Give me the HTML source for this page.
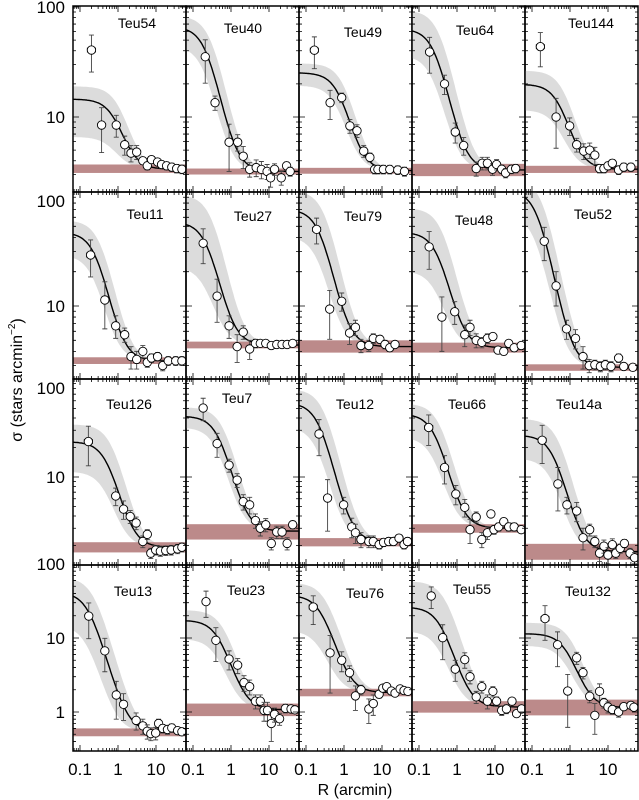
<!DOCTYPE html>
<html><head><meta charset="utf-8"><style>
html,body{margin:0;padding:0;background:#fff;}
svg{display:block;font-family:"Liberation Sans",sans-serif;}
</style></head><body>
<svg id="chart" width="639" height="800" viewBox="0 0 639 800" xmlns="http://www.w3.org/2000/svg">
<g id="panels"></g>
<text x="355" y="795" font-size="16" text-anchor="middle">R (arcmin)</text>
<text transform="translate(22,380) rotate(-90)" font-size="16" text-anchor="middle">σ (stars arcmin<tspan dy="-7" font-size="10">−2</tspan><tspan dy="7">)</tspan></text>
</svg>
<script>
const clusterNames = ["Teu54","Teu40","Teu49","Teu64","Teu144","Teu11","Teu27","Teu79","Teu48","Teu52","Teu126","Teu7","Teu12","Teu66","Teu14a","Teu13","Teu23","Teu76","Teu55","Teu132"];
const coreDensity = [11.2,63,22,60,16.5,41,50,66,40,101,21,39,55,41,25,41,16.3,36,25,10.3];
const coreRadius = [0.9,0.25,0.85,0.3,0.6,0.3,0.27,0.27,0.36,0.16,0.58,0.54,0.25,0.3,0.42,0.18,0.5,0.27,0.39,0.85];
const bgLevel = [3.35,3.2,3.25,3.3,3.35,3.3,4.55,4.4,4.3,2.9,1.92,2.8,2.17,3.0,1.73,0.54,1.07,1.83,1.17,1.15];
const bgLow = [3.1,3.0,3.05,2.9,3.1,3.1,4.25,3.9,3.9,2.7,1.7,2.3,1.96,2.7,1.43,0.47,0.88,1.63,0.98,0.9];
const bgHigh = [3.7,3.4,3.45,3.75,3.6,3.55,4.87,5.0,4.77,3.08,2.16,3.3,2.38,3.3,2.08,0.6,1.3,2.06,1.4,1.47];
const bandUpper = [1.4,1.27,1.25,1.5,1.4,1.3,1.8,1.5,1.7,1.3,1.55,1.25,1.4,1.3,1.5,1.6,1.4,1.5,2.3,1.45];
const bandLower = [0.29,0.65,0.73,0.55,0.5,0.6,0.35,0.55,0.4,0.6,0.45,0.75,0.55,0.55,0.55,0.35,0.53,0.3,0.45,0.65];
const firstXerr = [1,0,1,0,1,1,0,1,0,0,1,0,0,1,1,0,0,1,0,1];
const xTickLabels = ["0.1","1","10"];
const xTickValues = [0.1,1,10];
const yTickLabels = [["100","10"],["100","10"],["100","10"],["100","10","1"]];
const yTickValues = [[100,10],[100,10],[100,10],[100,10,1]];
const profilePoints = [
[[0.2,40.6,15],[0.37,8.45,3.7],[0.9,8.45,1.9],[1.5,5.6,1.1],[2.2,4.7,0.8],[3.1,4.8,0.7],[4.5,4.0,0.3],[5.9,3.6,0.3],[7.6,4.1,0.3],[11,3.9,0.3],[14,3.7,0.3],[19,3.6,0.3],[26,3.5,0.3],[35,3.4,0.3],[48,3.35,0.3]],
[[0.21,35.3,15],[0.38,13.5,2],[0.89,5.9,2.7],[1.5,5.9,1],[2.1,4.4,1],[3.1,3.34,0.5],[4.6,3.47,0.6],[6.3,3.34,0.6],[8.9,3.2,0.5],[11,2.8,0.5],[14,3.35,0.4],[21,2.8,0.4],[29,3.6,0.3],[36,3.2,0.3]],
[[0.166,40.5,13],[0.43,13.5,4],[0.87,15,1.5],[1.43,8.3,1.2],[2.2,7.5,1],[3.3,4.9,0.6],[4.8,4.3,0.4],[6.4,3.34,0.3],[7.8,3.34,0.3],[10.9,3.34,0.3],[16,3.34,0.3],[26,3.3,0.3],[39,3.2,0.3]],
[[0.19,39,14],[0.47,20,4],[0.9,7.3,1.5],[1.5,5.5,1],[3.2,3.4,0.5],[4.6,3.8,0.5],[6.3,3.8,0.5],[8.6,3.35,0.4],[11,3.7,0.4],[15,3.35,0.3],[19,3.1,0.3],[27,3.35,0.3],[35,3.4,0.3]],
[[0.166,43.6,15],[0.43,10,4.8],[0.98,8.3,1.5],[1.5,5.6,0.8],[2.3,4.9,0.8],[3.3,5,0.8],[4.5,4.5,0.8],[6,3.4,0.3],[7.8,3.4,0.3],[10,3.6,0.3],[13,3.8,0.3],[19,3.3,0.3],[26,3.5,0.3],[40,3.5,0.3]],
[[0.19,28,10],[0.45,11.3,5],[0.87,6.7,1.5],[1.5,5.6,0.8],[2.2,3.6,0.8],[3.1,3.4,0.6],[4.5,4.0,0.5],[5.9,3.2,0.3],[7.6,3.5,0.3],[11,3.6,0.3],[15,3.0,0.3],[21,3.3,0.3],[33,3.3,0.3],[48,3.3,0.3]],
[[0.185,35.5,12],[0.43,12.2,5],[0.89,6.7,1.5],[1.45,4.4,1.2],[2.1,5.9,0.8],[3.1,4.2,0.8],[4.4,4.7,0.4],[5.9,4.7,0.3],[8.2,4.7,0.3],[11.5,4.5,0.3],[16,4.6,0.3],[22,4.6,0.3],[30,4.6,0.3],[42,4.7,0.3]],
[[0.19,47,12],[0.42,9.4,4.3],[0.87,11,2],[1.4,5.8,1.2],[2.0,6.5,1],[2.8,4.5,0.6],[4.5,4.5,0.5],[5.9,5.2,0.5],[8.8,5.1,0.4],[12,4.6,0.4],[16,4.3,0.3],[22,4.6,0.3]],
[[0.185,33,12],[0.4,8,4],[0.87,8.9,2],[1.6,5.6,1.2],[2.2,6.5,1],[3.2,5,0.7],[4.5,4.8,0.5],[6.3,5.2,0.5],[8.8,5.4,0.4],[12,4.1,0.3],[17,4.0,0.3],[23,4.7,0.3],[32,4.3,0.3],[49,4.5,0.3]],
[[0.21,37,12],[0.43,15,5],[0.81,6.3,1.2],[1.4,5.2,1],[2.2,3.6,0.8],[3.2,3.0,0.4],[4.5,3.05,0.3],[6.3,2.95,0.3],[8.5,3.05,0.3],[12,2.95,0.3],[19,3.5,0.3],[26,2.95,0.2],[45,2.9,0.2]],
[[0.166,23,10],[0.87,6.4,1.3],[1.4,4.7,1],[2.1,3.95,0.6],[3.0,3.4,0.5],[4.5,2.2,0.3],[5.9,2.6,0.3],[7.3,1.67,0.2],[9.8,1.8,0.2],[13,1.75,0.2],[18,1.78,0.2],[25,1.8,0.2],[37,1.85,0.2],[48,1.92,0.2]],
[[0.185,50.6,13],[0.43,21.9,6],[0.89,13.2,2],[1.45,9.3,1.5],[2.1,5.6,1],[3.1,5.2,1],[4.4,3.6,0.6],[5.9,3.0,0.5],[8.2,3.26,0.5],[11.5,2.1,0.3],[16,2.75,0.4],[22,2.75,0.4],[30,2.1,0.3],[42,3.26,0.3]],
[[0.22,27.5,11],[0.37,6.1,3.3],[0.98,5.2,1],[1.6,3.1,0.7],[2.0,2.7,0.6],[2.8,2.3,0.4],[4.5,2.2,0.3],[5.9,2.2,0.3],[8.4,2.04,0.2],[11,2.15,0.2],[15,2.2,0.2],[20,2.2,0.2],[28,2.38,0.2],[38,2.04,0.2],[47,2.2,0.2]],
[[0.18,32,11],[0.47,12.5,4],[0.93,6.7,1.5],[1.6,4.9,1],[2.2,2.9,0.8],[3.2,3.9,0.5],[4.5,2.3,0.4],[6.3,2.7,0.4],[7.8,4.2,0.2],[9.4,2.9,0.3],[12.5,3.1,0.3],[17,3.5,0.3],[23,3.1,0.3],[32,3.1,0.3],[49,2.9,0.2]],
[[0.185,23.7,10],[0.48,8.5,4],[0.83,5.2,1],[1.5,4.5,1],[2.2,2.4,0.6],[3.3,2.9,0.4],[4.5,2.2,0.3],[6,1.67,0.3],[7.8,1.97,0.3],[10,1.6,0.3],[13,2.04,0.3],[16,1.67,0.2],[21,1.87,0.2],[27,2.1,0.2],[38,1.67,0.2],[50,1.5,0.2]],
[[0.17,19.8,10],[0.45,6.7,3.2],[0.9,1.7,0.9],[1.4,1.27,0.5],[3.0,0.77,0.2],[4.5,0.65,0.15],[5.9,0.55,0.12],[7.3,0.51,0.1],[9.8,0.52,0.1],[11.7,0.7,0.1],[15,0.6,0.08],[20,0.58,0.08],[26,0.61,0.08],[37,0.56,0.06],[48,0.54,0.06]],
[[0.22,31,12],[0.4,9.3,4.5],[0.89,5.2,1.5],[1.5,4.3,1],[2.2,2.5,0.6],[3.1,2.2,0.5],[4.4,1.4,0.3],[5.9,1.4,0.3],[7.4,1.05,0.3],[9.1,1.05,0.3],[11.5,0.7,0.3],[14,0.93,0.2],[19,0.81,0.15],[27,1.12,0.15],[38,1.1,0.1],[48,1.07,0.1]],
[[0.155,26.2,11],[0.43,6.3,4.5],[0.87,5,1.5],[1.4,3.4,0.8],[2.0,1.65,0.6],[2.8,2.0,0.3],[4.5,1.1,0.4],[5.9,1.3,0.4],[8.4,1.74,0.2],[10.5,2.1,0.2],[13.3,2.2,0.2],[17.6,1.92,0.2],[22,1.8,0.15],[30,2.05,0.15],[38,1.95,0.1],[48,1.9,0.1]],
[[0.21,37,12],[0.42,10.1,5],[0.9,3.8,1.2],[1.6,5.1,1.2],[2.2,3.0,0.6],[3.2,1.6,0.3],[4.5,2.2,0.4],[6.3,1.4,0.3],[8.8,1.9,0.3],[11,1.4,0.2],[15,1.05,0.15],[20,1.1,0.15],[28,1.4,0.15],[37,0.95,0.1],[50,1.1,0.1]],
[[0.22,18.3,9],[0.47,8.1,4],[0.87,1.92,1.3],[1.5,5.4,1],[2.2,3.4,0.6],[3.3,1.63,0.3],[4.5,0.9,0.4],[6,1.9,0.5],[7.8,1.33,0.2],[10,1.17,0.2],[13,1.08,0.15],[19,1.0,0.15],[26,1.18,0.1],[40,1.23,0.1],[48,1.16,0.1]]
];

const NS="http://www.w3.org/2000/svg";
const root=document.getElementById('panels');
const rowTop=[6,192,379,565], rowH=[186,187,186,186];
const rowY10=[117,306,477,638], rowDec=[110,114,98,74];
const colLeft=73, colW=113, xOff=7, xDec=38;
const labelOff=[[64,57,64,63,66],[72,67,64,62,68],[56,51,56,55,54],[60,60,66,60,63]];
const labelY=[[23,28,32,30,23],[214,216,216,220,214],[404,398,404,404,404],[591,590,593,589,591]];
const labelShift=[0,9,9,0];
function mk(tag,attrs,parent){const e=document.createElementNS(NS,tag);for(const k in attrs)e.setAttribute(k,attrs[k]);parent.appendChild(e);return e;}
function xScale(col,r){return colLeft+col*colW+xOff+(Math.log10(r)+1)*xDec;}
function yScale(row,v){return rowY10[row]-(Math.log10(Math.max(v,1e-3))-1)*rowDec[row];}
function king(s0,rc,bg,r){return bg+s0/(1+(r/rc)*(r/rc));}
const rGrid=[];for(let k=0;k<=120;k++){rGrid.push(Math.pow(10,-1.25+k*3.1/120));}

for(let p=0;p<20;p++){
  const row=Math.floor(p/5), col=p%5;
  const L=colLeft+col*colW, T=rowTop[row], W=colW, H=rowH[row];
  const g=mk('g',{},root);
  
  
  const cp=mk('clipPath',{id:'cp'+p},g);
  mk('rect',{x:L,y:T,width:W,height:H},cp);
  const inner=mk('g',{'clip-path':'url(#cp'+p+')'},g);
  const s0=coreDensity[p], rc=coreRadius[p], bg=bgLevel[p];
  let up=[],lo=[];
  rGrid.forEach(r=>{up.push(xScale(col,r).toFixed(1)+','+yScale(row,king(s0*bandUpper[p],rc*1.35,bg,r)).toFixed(1));
                    lo.push(xScale(col,r).toFixed(1)+','+yScale(row,king(s0*bandLower[p],rc*0.85,bg,r)).toFixed(1));});
  const band=mk('polygon',{points:up.concat(lo.reverse()).join(' '),fill:'#dcdcdc'},inner);
  
  
  const yb1=yScale(row,bgHigh[p]), yb2=yScale(row,bgLow[p]);
  const bgr=mk('rect',{x:L,y:yb1,width:W,height:yb2-yb1,fill:'#bc8a8a'},inner);
  
  
  const cpts=rGrid.map(r=>xScale(col,r).toFixed(1)+','+yScale(row,king(s0,rc,bg,r)).toFixed(1)).join(' ');
  const cl=mk('polyline',{points:cpts,fill:'none',stroke:'#000','stroke-width':1.4},inner);
  
  
  profilePoints[p].forEach((pt,i)=>{
    const [r,s,e]=pt; const x=xScale(col,r), y=yScale(row,s);
    const yh=yScale(row,s+e), yl=yScale(row,Math.max(s-e,s*0.12));
    const eb=mk('path',{d:`M${x},${yh}V${yl}M${x-2.5},${yh}h5M${x-2.5},${yl}h5`,stroke:'#444','stroke-width':0.9,fill:'none'},inner);
    
    
    if(i===0&&firstXerr[p]){const x1=xScale(col,r/1.28),x2=xScale(col,r*1.28);
      const xe=mk('path',{d:`M${x1},${y}H${x2}M${x1},${y-2.5}v5M${x2},${y-2.5}v5`,stroke:'#444','stroke-width':0.9,fill:'none'},inner);
      
      }
    const c=mk('circle',{cx:x,cy:y,r:4.2,fill:'#fff',stroke:'#000','stroke-width':0.9},inner);
    
    
  });
  let d='';
  for(let dec=-2;dec<=2;dec++){for(let m=1;m<=9;m++){const r=m*Math.pow(10,dec);const x=xScale(col,r);
    if(x<L+0.5||x>L+W-0.5)continue;const len=m===1?6:3;d+=`M${x},${T+H}v${-len}M${x},${T}v${len}`;}}
  for(let dec=-1;dec<=2;dec++){for(let m=1;m<=9;m++){const v=m*Math.pow(10,dec);const y=yScale(row,v);
    if(y<T+0.5||y>T+H-0.5)continue;const len=m===1?6:3;d+=`M${L},${y}h${len}M${L+W},${y}h${-len}`;}}
  const tk=mk('path',{d:d,stroke:'#000','stroke-width':0.8,fill:'none'},g);
  
  
  const fr=mk('rect',{x:L,y:T,width:W,height:H,fill:'none',stroke:'#000','stroke-width':1.5},g);
  
  
  const lb=mk('text',{x:L+labelOff[row][col],y:labelY[row][col]+5,'font-size':14,'text-anchor':'middle'},g);
  lb.textContent=clusterNames[p];
  
  
}
for(let row=0;row<4;row++){yTickValues[row].forEach((v,i)=>{
  const sh=(v===100)?labelShift[row]:0;
  const t=mk('text',{x:65,y:yScale(row,v)+6+sh,'font-size':17,'text-anchor':'end'},root);
  t.textContent=yTickLabels[row][i];
  
  });}
for(let col=0;col<5;col++){xTickValues.forEach((v,i)=>{
  const t=mk('text',{x:xScale(col,v),y:775,'font-size':17,'text-anchor':'middle'},root);
  t.textContent=xTickLabels[i];
  
  });}
</script>
</body></html>
